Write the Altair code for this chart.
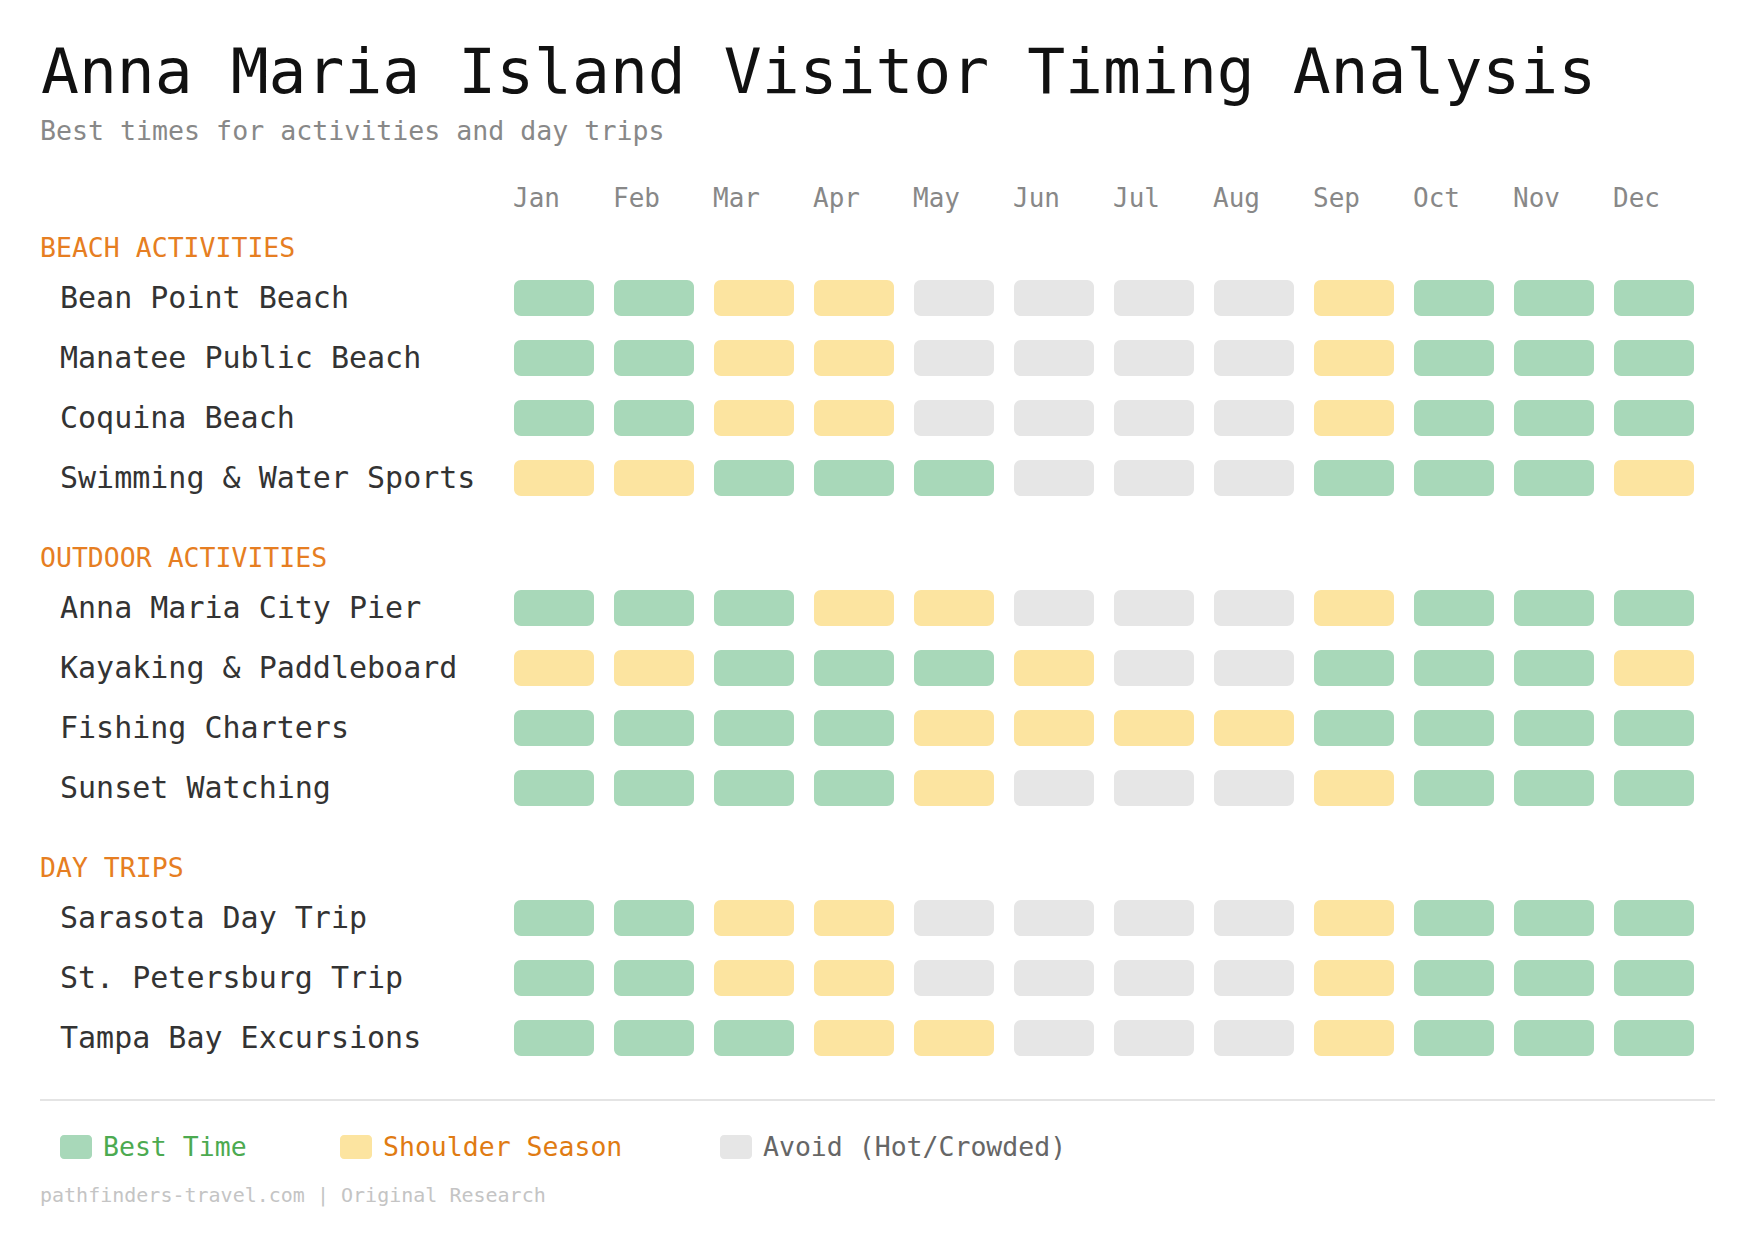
import altair as alt
import pandas as pd

# ---------------- data ----------------
TITLE = "Anna Maria Island Visitor Timing Analysis"
SUBTITLE = "Best times for activities and day trips"
FOOTER = "pathfinders-travel.com | Original Research"

MONTHS = ["Jan", "Feb", "Mar", "Apr", "May", "Jun", "Jul", "Aug", "Sep", "Oct", "Nov", "Dec"]

SECTIONS = ["BEACH ACTIVITIES", "OUTDOOR ACTIVITIES", "DAY TRIPS"]

BEACH_ACTIVITIES = ["Bean Point Beach", "Manatee Public Beach", "Coquina Beach", "Swimming & Water Sports"]
BEACH_STATUS = [
    ["B", "B", "S", "S", "A", "A", "A", "A", "S", "B", "B", "B"],
    ["B", "B", "S", "S", "A", "A", "A", "A", "S", "B", "B", "B"],
    ["B", "B", "S", "S", "A", "A", "A", "A", "S", "B", "B", "B"],
    ["S", "S", "B", "B", "B", "A", "A", "A", "B", "B", "B", "S"],
]

OUTDOOR_ACTIVITIES = ["Anna Maria City Pier", "Kayaking & Paddleboard", "Fishing Charters", "Sunset Watching"]
OUTDOOR_STATUS = [
    ["B", "B", "B", "S", "S", "A", "A", "A", "S", "B", "B", "B"],
    ["S", "S", "B", "B", "B", "S", "A", "A", "B", "B", "B", "S"],
    ["B", "B", "B", "B", "S", "S", "S", "S", "B", "B", "B", "B"],
    ["B", "B", "B", "B", "S", "A", "A", "A", "S", "B", "B", "B"],
]

DAYTRIP_ACTIVITIES = ["Sarasota Day Trip", "St. Petersburg Trip", "Tampa Bay Excursions"]
DAYTRIP_STATUS = [
    ["B", "B", "S", "S", "A", "A", "A", "A", "S", "B", "B", "B"],
    ["B", "B", "S", "S", "A", "A", "A", "A", "S", "B", "B", "B"],
    ["B", "B", "B", "S", "S", "A", "A", "A", "S", "B", "B", "B"],
]

STATUS_CODES = ["B", "S", "A"]
STATUS_LABELS = ["Best Time", "Shoulder Season", "Avoid (Hot/Crowded)"]

# ---------------- style / layout ----------------
FONT = "DejaVu Sans Mono"
CELL_COLORS = ["#a8d8b9", "#fce4a0", "#e6e6e6"]
LEGEND_TEXT_COLORS = ["#4caa50", "#e07b12", "#666666"]
HEADER_COLOR = "#e67e22"
W, H = 1738, 1244

# vertical layout in 10px slot units
HEADER_TO_ROW = 5
ROW_STEP = 6
ROW_TO_HEADER = 8

groups = [
    (SECTIONS[0], BEACH_ACTIVITIES, BEACH_STATUS),
    (SECTIONS[1], OUTDOOR_ACTIVITIES, OUTDOOR_STATUS),
    (SECTIONS[2], DAYTRIP_ACTIVITIES, DAYTRIP_STATUS),
]

header_rows, label_rows, cell_rows = [], [], []
pos = 0
for gi, (sec, acts, stats) in enumerate(groups):
    if gi > 0:
        pos += ROW_TO_HEADER
    header_rows.append({"label": sec, "slot": pos})
    pos += HEADER_TO_ROW
    for j, (act, st) in enumerate(zip(acts, stats)):
        if j > 0:
            pos += ROW_STEP
        label_rows.append({"label": act, "slot": pos})
        for m, s in zip(MONTHS, st):
            cell_rows.append({"activity": act, "month": m, "status": s, "slot": pos})
last_slot = pos

headers_df = pd.DataFrame(header_rows)
labels_df = pd.DataFrame(label_rows)
cells_df = pd.DataFrame(cell_rows)
months_df = pd.DataFrame({"month": MONTHS})

y_scale = alt.Scale(domain=[0, last_slot], range=[240, 1030], zero=False, nice=False)
x_scale = alt.Scale(domain=MONTHS, range=[496, 1696], paddingInner=0.2, paddingOuter=0.1)
color_scale = alt.Scale(domain=STATUS_CODES, range=CELL_COLORS)

cells = (
    alt.Chart(cells_df)
    .transform_calculate(y0="datum.slot - 1.8", y1="datum.slot + 1.8")
    .mark_rect(cornerRadius=7)
    .encode(
        x=alt.X("month:N", scale=x_scale, axis=None, sort=MONTHS),
        y=alt.Y("y0:Q", scale=y_scale, axis=None),
        y2="y1:Q",
        color=alt.Color("status:N", scale=color_scale, legend=None),
    )
)

month_labels = (
    alt.Chart(months_df)
    .mark_text(font=FONT, fontSize=26, color="#888888", align="left", baseline="alphabetic", dx=-1)
    .encode(
        x=alt.X("month:N", scale=x_scale, axis=None, sort=MONTHS, bandPosition=0),
        y=alt.value(199),
        text="month:N",
    )
)

act_labels = (
    alt.Chart(labels_df)
    .mark_text(font=FONT, fontSize=30, color="#333333", align="left", baseline="middle", dy=1)
    .encode(
        x=alt.value(52),
        y=alt.Y("slot:Q", scale=y_scale, axis=None),
        text="label:N",
    )
)

sec_labels = (
    alt.Chart(headers_df)
    .mark_text(font=FONT, fontSize=26.5, color=HEADER_COLOR, align="left", baseline="middle", dy=1)
    .encode(
        x=alt.value(32),
        y=alt.Y("slot:Q", scale=y_scale, axis=None),
        text="label:N",
    )
)


def text_layer(txt, x, y, size, color, baseline="alphabetic"):
    return (
        alt.Chart(pd.DataFrame({"t": [txt]}))
        .mark_text(font=FONT, fontSize=size, color=color, align="left", baseline=baseline)
        .encode(x=alt.value(x), y=alt.value(y), text="t:N")
    )


title = text_layer(TITLE, 33, 85, 63, "#111111")
subtitle = text_layer(SUBTITLE, 32, 132, 26.6, "#888888")
footer = text_layer(FOOTER, 32, 1194, 20, "#c4c4c4")

separator = (
    alt.Chart(pd.DataFrame({"a": [0]}))
    .mark_rule(color="#e4e4e4", strokeWidth=2)
    .encode(x=alt.value(32), x2=alt.value(1707), y=alt.value(1092))
)

LEGEND_X = [52, 332, 712]
legend_layers = []
for code, lab, tcol, lx in zip(STATUS_CODES, STATUS_LABELS, LEGEND_TEXT_COLORS, LEGEND_X):
    d = pd.DataFrame({"status": [code], "label": [lab]})
    sq = (
        alt.Chart(d)
        .mark_rect(cornerRadius=4)
        .encode(
            x=alt.value(lx), x2=alt.value(lx + 32),
            y=alt.value(1127), y2=alt.value(1151),
            color=alt.Color("status:N", scale=color_scale, legend=None),
        )
    )
    tx = (
        alt.Chart(d)
        .mark_text(font=FONT, fontSize=26.5, color=tcol, align="left", baseline="middle", dy=1)
        .encode(x=alt.value(lx + 43), y=alt.value(1139), text="label:N")
    )
    legend_layers += [sq, tx]

chart = (
    alt.layer(cells, month_labels, act_labels, sec_labels, title, subtitle, separator, footer, *legend_layers)
    .properties(width=W, height=H, autosize=alt.AutoSizeParams(type="none"), padding=0, background="white")
    .configure_view(stroke=None)
)

chart.save("out.html", embed_options={"renderer": "svg", "actions": False})
